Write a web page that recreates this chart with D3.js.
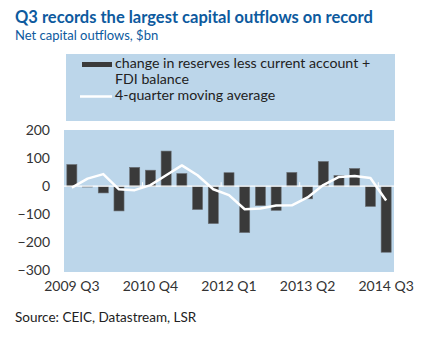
<!DOCTYPE html>
<html>
<head>
<meta charset="utf-8">
<script src="https://cdn.jsdelivr.net/npm/d3@7"></script>
<style>
  body { margin: 0; background: #fff; }
  svg { font-family: Lato, "Open Sans", sans-serif; }
</style>
</head>
<body>
<div id="chart"></div>
<script>
// quarters 2009 Q3 .. 2014 Q3
const quarters = [
  "2009 Q3", "2009 Q4", "2010 Q1", "2010 Q2", "2010 Q3", "2010 Q4", "2011 Q1",
  "2011 Q2", "2011 Q3", "2011 Q4", "2012 Q1", "2012 Q2", "2012 Q3", "2012 Q4",
  "2013 Q1", "2013 Q2", "2013 Q3", "2013 Q4", "2014 Q1", "2014 Q2", "2014 Q3"
];
const outflows = [77, -3, -24, -88, 67, 57, 125, 45, -83, -133, 48, -165, -69, -86, 49, -45, 88, 38, 63, -72, -235];
const movingAvg = [-5, 27, 43, -11, -14, 4, 39, 74, 39, -11, -32, -82, -79, -69, -68, -40, 4, 33, 36, 29, -51];
const xTickLabels = ["2009 Q3", "2010 Q4", "2012 Q1", "2013 Q2", "2014 Q3"];
const yTicks = [200, 100, 0, -100, -200, -300];

const width = 428, height = 341;
const plot = { left: 64, right: 394, top: 130, bottom: 272 };
const font = "Lato, Open Sans, sans-serif";

const svg = d3.select("#chart").append("svg")
  .attr("width", width)
  .attr("height", height);

svg.append("text")
  .attr("x", 15).attr("y", 22.5)
  .attr("fill", "#0d5a9e")
  .attr("font-size", 16.5)
  .attr("font-weight", "bold")
  .text("Q3 records the largest capital outflows on record");

svg.append("text")
  .attr("x", 15).attr("y", 40)
  .attr("fill", "#0d5a9e")
  .attr("font-size", 13)
  .text("Net capital outflows, $bn");

// legend panel
const legend = svg.append("g");
legend.append("rect")
  .attr("x", 66).attr("y", 54)
  .attr("width", 329).attr("height", 67)
  .attr("fill", "#bcd6ea");
legend.append("rect")
  .attr("x", 82).attr("y", 62)
  .attr("width", 30).attr("height", 5)
  .attr("fill", "#3a3a3a");
legend.append("line")
  .attr("x1", 80).attr("x2", 112)
  .attr("y1", 96.5).attr("y2", 96.5)
  .attr("stroke", "#fff").attr("stroke-width", 2.5);
const legendText = [
  ["change in reserves less current account +", 68],
  ["FDI balance", 84],
  ["4-quarter moving average", 99.5]
];
legend.selectAll("text.leg").data(legendText).join("text")
  .attr("class", "leg")
  .attr("x", 115).attr("y", d => d[1])
  .attr("font-size", 14.2)
  .attr("fill", "#222")
  .text(d => d[0]);

// plot area
const x = d3.scaleBand()
  .domain(quarters)
  .range([plot.left, plot.right])
  .paddingInner(0.36)
  .paddingOuter(0.18);

const y = d3.scaleLinear()
  .domain([-300, 200])
  .range([plot.bottom - 1.5, plot.top]);

svg.append("rect")
  .attr("x", plot.left).attr("y", plot.top)
  .attr("width", plot.right - plot.left)
  .attr("height", plot.bottom - plot.top)
  .attr("fill", "#bcd6ea");

svg.append("g").selectAll("rect").data(outflows).join("rect")
  .attr("x", (d, i) => x(quarters[i]))
  .attr("width", x.bandwidth())
  .attr("y", d => y(Math.max(0, d)))
  .attr("height", d => Math.abs(y(d) - y(0)))
  .attr("fill", "#3a3a3a")
  .attr("stroke", "#6a6f74")
  .attr("stroke-width", 0.6);

// zero line with small ticks every 5 quarters
svg.append("line")
  .attr("x1", plot.left).attr("x2", plot.right)
  .attr("y1", y(0)).attr("y2", y(0))
  .attr("stroke", "#fff").attr("stroke-width", 1.2);

const step = x.step();
const tickIdx = [5, 10, 15, 20];
const boundary = i => plot.left + x.paddingOuter() * step + i * step - (x.paddingInner() * step) / 2;
svg.append("g").selectAll("line").data(tickIdx).join("line")
  .attr("x1", boundary)
  .attr("x2", boundary)
  .attr("y1", y(0) - 4).attr("y2", y(0))
  .attr("stroke", "#fff").attr("stroke-width", 1);

const line = d3.line()
  .x((d, i) => x(quarters[i]) + x.bandwidth() / 2)
  .y(d => y(d));

svg.append("path")
  .datum(movingAvg)
  .attr("d", line)
  .attr("fill", "none")
  .attr("stroke", "#fff")
  .attr("stroke-width", 2.5)
  .attr("stroke-linejoin", "round");

// axes
const yAxis = svg.append("g")
  .attr("transform", "translate(" + (plot.left - 14) + ",0)")
  .call(d3.axisLeft(y).tickValues(yTicks).tickSize(0).tickPadding(0));
yAxis.select(".domain").remove();
yAxis.selectAll("text")
  .attr("font-size", 14)
  .attr("fill", "#333")
  .attr("font-family", font);

const xAxis = svg.append("g")
  .attr("transform", "translate(0," + (plot.bottom + 6) + ")")
  .call(d3.axisBottom(x).tickValues(xTickLabels).tickSize(0).tickPadding(3));
xAxis.select(".domain").remove();
xAxis.selectAll("text")
  .attr("font-size", 14)
  .attr("fill", "#333")
  .attr("font-family", font);

svg.append("text")
  .attr("x", 15).attr("y", 321.5)
  .attr("font-size", 13.5)
  .attr("fill", "#222")
  .text("Source: CEIC, Datastream, LSR");
</script>
</body>
</html>
